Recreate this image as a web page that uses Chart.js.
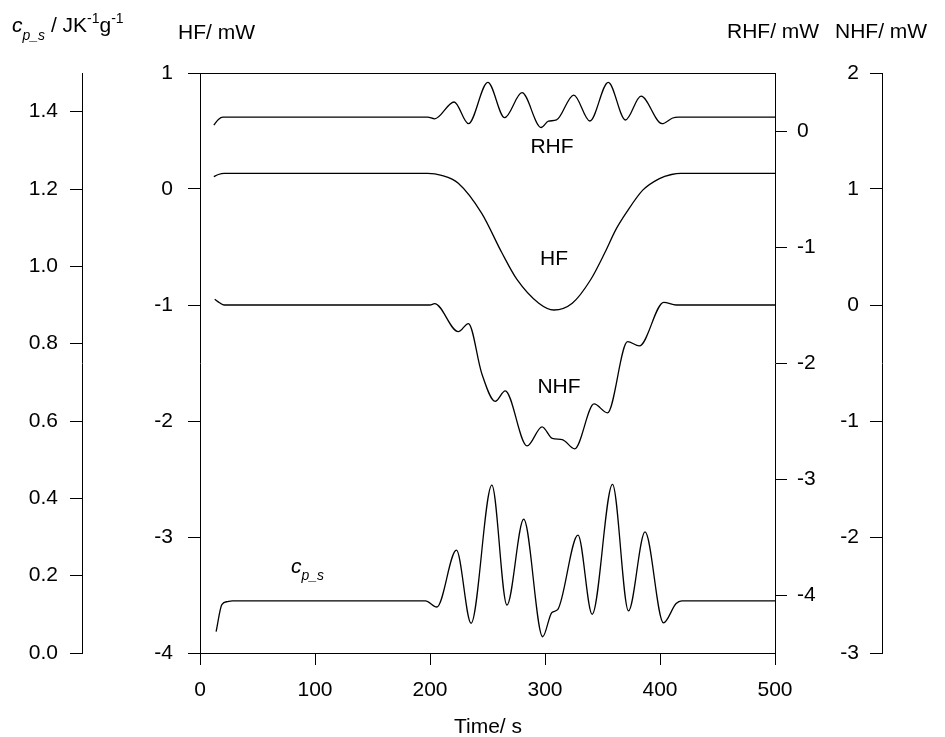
<!DOCTYPE html>
<html>
<head>
<meta charset="utf-8">
<title>HF, RHF, NHF and cp_s against time</title>
<script src="https://cdn.jsdelivr.net/npm/chart.js@4.4.1/dist/chart.umd.min.js"></script>
<style>
  html, body { margin: 0; padding: 0; background: #fff; }
  canvas { display: block; }
</style>
</head>
<body>
<canvas id="chart" width="945" height="737"></canvas>
<script>
// Values (time in s)
const hfTime = [12, 16, 21, 198, 210, 224.6, 245, 262.5, 275.6, 294.6, 307.7, 323.7, 339.8, 352, 361.6, 371, 385, 399.5, 410, 418, 500];
const hfValues = [0.106, 0.125, 0.135, 0.135, 0.118, 0.05, -0.21, -0.55, -0.78, -0.985, -1.043, -0.985, -0.78, -0.55, -0.35, -0.2, -0.01, 0.09, 0.125, 0.135, 0.135];

const rhfTime = [12, 16, 20, 198, 204, 221, 233.4, 250.3, 264.9, 280, 296.6, 303, 310, 325, 339, 355, 370, 383.5, 401.8, 411, 416, 500];
const rhfValues = [0.05, 0.10, 0.12, 0.12, 0.105, 0.25, 0.063, 0.42, 0.115, 0.33, 0.03, 0.085, 0.095, 0.31, 0.086, 0.42, 0.095, 0.30, 0.063, 0.112, 0.12, 0.12];

const nhfTime = [12.8, 17, 21, 200, 204, 224.6, 233.4, 245, 256.7, 265.4, 284.4, 297.5, 306.3, 315, 325.8, 342.7, 354.3, 371.8, 382, 403.3, 414, 500];
const nhfValues = [0.05, 0.02, 0, 0, 0.012, -0.23, -0.16, -0.59, -0.83, -0.74, -1.215, -1.05, -1.15, -1.16, -1.24, -0.853, -0.93, -0.316, -0.353, 0.023, 0, 0];

const cpTime = [14, 19, 24, 28, 196, 206, 223, 235.7, 253.8, 266.9, 281.5, 298, 306, 311, 328.7, 341, 358.7, 372.6, 387, 403, 414, 419, 500];
const cpValues = [0.055, 0.125, 0.133, 0.135, 0.135, 0.119, 0.266, 0.077, 0.434, 0.124, 0.346, 0.042, 0.105, 0.112, 0.305, 0.100, 0.436, 0.109, 0.313, 0.078, 0.128, 0.135, 0.135];

// Tick labels
const timeTicks = [0, 100, 200, 300, 400, 500];
const hfTicks = [-4, -3, -2, -1, 0, 1];
const cpTicks = [0, 0.2, 0.4, 0.6, 0.8, 1.0, 1.2, 1.4];
const rhfTicks = [-4, -3, -2, -1, 0];
const nhfTicks = [-3, -2, -1, 0, 1, 2];

const FAMILY = "'Liberation Sans', Arial, sans-serif";
const TICK_FONT = { family: FAMILY, size: 21 };

const toPoints = (xs, ys) => xs.map((x, i) => ({ x: x, y: ys[i] }));

function curve(label, xs, ys, axis) {
  return {
    label: label,
    data: toPoints(xs, ys),
    yAxisID: axis,
    xAxisID: 'x',
    borderColor: '#000',
    borderWidth: 1.3,
    pointRadius: 0,
    fill: false,
    cubicInterpolationMode: 'monotone'
  };
}

// y axis with fixed box width and fixed tick list
function yAxis(pos, weight, min, max, ticks, width, extra) {
  const ax = {
    type: 'linear',
    position: pos,
    weight: weight,
    min: min,
    max: max,
    afterBuildTicks: s => { s.ticks = ticks.map(v => ({ value: v })); },
    afterFit: s => { s.width = width; },
    grid: { drawOnChartArea: false, tickLength: 12, tickColor: '#000', tickWidth: 1 },
    border: { color: '#000', width: 1 },
    ticks: { font: TICK_FONT, color: '#000', padding: 12, callback: v => String(v) }
  };
  if (extra) extra(ax);
  return ax;
}

// free text: axis titles and curve names
const annotations = {
  id: 'annotations',
  afterDraw(chart) {
    const ctx = chart.ctx;
    ctx.save();
    ctx.fillStyle = '#000';
    ctx.textBaseline = 'alphabetic';

    function runs(x, y, parts) {
      parts.forEach(p => {
        ctx.font = (p.italic ? 'italic ' : '') + p.size + 'px ' + FAMILY;
        ctx.textAlign = 'left';
        ctx.fillText(p.t, x, y + (p.dy || 0));
        x += ctx.measureText(p.t).width;
      });
    }
    function centered(text, x, y) {
      ctx.font = '21px ' + FAMILY;
      ctx.textAlign = 'center';
      ctx.fillText(text, x, y);
    }

    runs(12, 32, [
      { t: 'c', size: 21, italic: true },
      { t: 'p_s', size: 14, italic: true, dy: 8 },
      { t: ' / JK', size: 21 },
      { t: '-1', size: 14, dy: -9 },
      { t: 'g', size: 21 },
      { t: '-1', size: 14, dy: -9 }
    ]);
    runs(178, 39, [{ t: 'HF/ mW', size: 21 }]);
    runs(727, 38, [{ t: 'RHF/ mW', size: 21 }]);
    runs(835, 38, [{ t: 'NHF/ mW', size: 21 }]);
    centered('Time/ s', 488, 733);

    centered('RHF', 552, 153);
    centered('HF', 554, 265);
    centered('NHF', 559, 393);
    runs(291, 573, [
      { t: 'c', size: 21, italic: true },
      { t: 'p_s', size: 14, italic: true, dy: 7 }
    ]);
    ctx.restore();
  }
};

new Chart(document.getElementById('chart'), {
  type: 'line',
  data: {
    datasets: [
      curve('RHF', rhfTime, rhfValues, 'rhf'),
      curve('HF', hfTime, hfValues, 'hf'),
      curve('NHF', nhfTime, nhfValues, 'nhf'),
      curve('cp_s', cpTime, cpValues, 'cp')
    ]
  },
  options: {
    responsive: false,
    animation: false,
    devicePixelRatio: 1,
    layout: { padding: { top: 73, left: 0, right: 0, bottom: 0 } },
    plugins: { legend: { display: false }, tooltip: { enabled: false } },
    scales: {
      x: {
        type: 'linear',
        position: 'bottom',
        min: 0,
        max: 500,
        afterBuildTicks: s => { s.ticks = timeTicks.map(v => ({ value: v })); },
        afterFit: s => { s.height = 84; },
        grid: { drawOnChartArea: false, tickLength: 12, tickColor: '#000' },
        border: { color: '#000', width: 1 },
        ticks: { font: TICK_FONT, color: '#000', padding: 13, maxRotation: 0, autoSkip: false }
      },
      xTop: {
        type: 'linear',
        position: 'top',
        min: 0,
        max: 500,
        afterFit: s => { s.height = 0; },
        grid: { display: false },
        border: { color: '#000', width: 1 },
        ticks: { display: false }
      },
      hf: yAxis('left', 0, -4, 1, hfTicks, 118, ax => { ax.ticks.padding = 15; }),
      cp: yAxis('left', 1, 0, 1.5, cpTicks, 82, ax => {
        ax.ticks.callback = v => Number(v).toFixed(1);
      }),
      rhf: yAxis('right', 0, -4.5, 0.5, rhfTicks, 107, ax => { ax.ticks.padding = 10; }),
      nhf: yAxis('right', 1, -3, 2, nhfTicks, 63, ax => {
        // labels sit left of the axis line, ticks point inwards
        ax.ticks.mirror = true;
        ax.ticks.padding = -23;
        ax.grid.tickLength = -12;
      })
    }
  },
  plugins: [annotations]
});
</script>
</body>
</html>
